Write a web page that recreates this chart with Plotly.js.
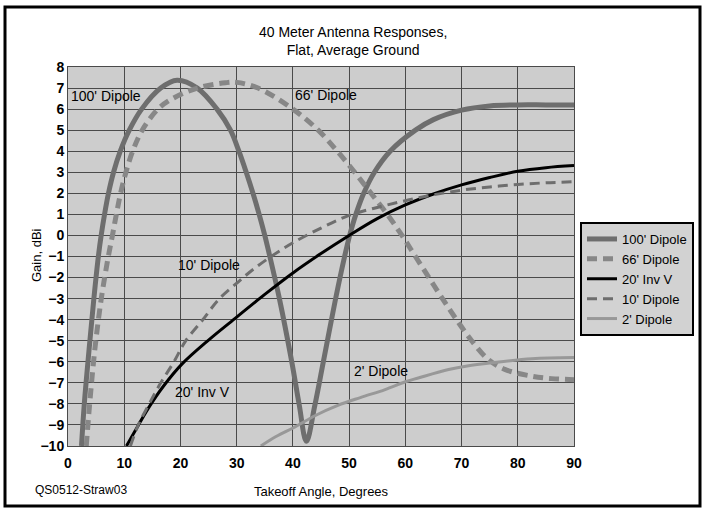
<!DOCTYPE html>
<html>
<head>
<meta charset="utf-8">
<script src="https://cdn.plot.ly/plotly-3.0.1.min.js"></script>
<style>
html,body{margin:0;padding:0;background:#fff;}
#chart{width:702px;height:508px;}
</style>
</head>
<body>
<div id="chart"></div>
<script>
// Series names
const seriesNames = ["100' Dipole", "66' Dipole", "20' Inv V", "10' Dipole", "2' Dipole"];

// 100' Dipole
const dip100X = [2.4, 2.9, 3.75, 4.6, 5.4, 5.9, 6.5, 7.2, 8.1, 9.3, 10.9, 13.1, 16.5, 19.4, 23.0, 26.5, 28.9, 30.4, 31.7, 32.9, 34.0, 35.0, 35.9, 37.6, 39.8, 41.1, 42.4, 43.9, 45.4, 47.6, 49.2, 50.1, 51.2, 52.6, 54.5, 57.3, 61.8, 65.0, 70.0, 75.0, 80.0, 85.0, 90.0];
const dip100Y = [-10, -8.0, -5.42, -3.0, -1.0, 0, 1, 2, 3, 4, 5, 6, 7, 7.37, 7, 6, 5, 4, 3, 2, 1, 0, -1, -3, -6, -8, -9.78, -8.07, -6.02, -3, -1, 0, 1, 2, 3, 4, 5, 5.5, 5.95, 6.15, 6.2, 6.2, 6.2];

// 66' Dipole
const dip66X = [3.25, 3.83, 4.77, 5.9, 7.1, 7.9, 8.6, 9.35, 10.3, 11.5, 13.2, 16.0, 18.6, 23.0, 28.0, 30.0, 33.8, 40.0, 44.5, 47.9, 51.0, 53.9, 56.8, 59.4, 61.8, 64.2, 66.6, 69.1, 71.8, 74.8, 77.8, 82.6, 86.0, 90.0];
const dip66Y = [-10, -8.07, -5.42, -3.04, -1.1, 0, 1, 2, 3, 4, 5, 6, 6.5, 7, 7.25, 7.27, 7, 6, 5, 4, 3, 2, 1, 0, -1, -2, -3, -4, -5, -5.9, -6.37, -6.69, -6.8, -6.85];

// 20' Inverted V
const invV20X = [10.4, 12.0, 14.3, 17.0, 20.3, 25.0, 30.0, 35.0, 40.0, 45.0, 50.0, 55.0, 60.0, 65.0, 70.0, 75.0, 80.0, 85.0, 90.0];
const invV20Y = [-10, -9.25, -8.2, -7.15, -6.1, -4.97, -3.88, -2.8, -1.78, -0.86, 0.0, 0.8, 1.45, 1.97, 2.4, 2.75, 3.05, 3.22, 3.32];

// 10' Dipole
const dip10X = [11.1, 12.5, 14.3, 16.5, 18.8, 20.9, 23.9, 26.8, 30.3, 33.0, 36.4, 40.0, 45.0, 50.0, 55.0, 60.0, 65.0, 70.0, 75.0, 80.0, 85.0, 90.0];
const dip10Y = [-10, -9, -8.07, -7, -6.02, -5.02, -4.03, -3.04, -2.2, -1.6, -0.95, -0.35, 0.35, 0.95, 1.33, 1.65, 1.93, 2.15, 2.3, 2.42, 2.5, 2.55];

// 2' Dipole
const dip2X = [34.3, 37.0, 40.6, 44.0, 48.0, 52.0, 56.4, 60.0, 62.3, 67.7, 71.0, 75.4, 82.5, 90.0];
const dip2Y = [-10, -9.55, -9.06, -8.55, -8.07, -7.7, -7.32, -6.95, -6.77, -6.37, -6.2, -6.05, -5.86, -5.8];

// Axis ticks
const xTicks = [0, 10, 20, 30, 40, 50, 60, 70, 80, 90];
const yTicks = [-10, -9, -8, -7, -6, -5, -4, -3, -2, -1, 0, 1, 2, 3, 4, 5, 6, 7, 8];

// In-plot labels
const labelTexts = ["100' Dipole", "66' Dipole", "10' Dipole", "20' Inv V", "2' Dipole"];
const labelX = [0.1, 40.0, 19.2, 18.7, 50.5];
const labelY = [6.6, 6.65, -1.38, -7.45, -6.45];

const FONT = 'Liberation Sans, Arial, Helvetica, sans-serif';

const fmtTick = v => '<b>' + (v < 0 ? '\u2212' + Math.abs(v) : String(v)) + '</b>';

const traces = [
  {x: dip100X, y: dip100Y, name: seriesNames[0], mode: 'lines',
   line: {color: '#6e6e6e', width: 5, shape: 'spline', smoothing: 1}},
  {x: dip66X, y: dip66Y, name: seriesNames[1], mode: 'lines',
   line: {color: '#878787', width: 5, dash: '10px,6px', shape: 'spline', smoothing: 1}},
  {x: invV20X, y: invV20Y, name: seriesNames[2], mode: 'lines',
   line: {color: '#000000', width: 3, shape: 'spline', smoothing: 1}},
  {x: dip10X, y: dip10Y, name: seriesNames[3], mode: 'lines',
   line: {color: '#6e6e6e', width: 3, dash: '10px,6px', shape: 'spline', smoothing: 1}},
  {x: dip2X, y: dip2Y, name: seriesNames[4], mode: 'lines',
   line: {color: '#989898', width: 3, shape: 'spline', smoothing: 1}}
];

const L = 68, R = 128, T = 67, B = 62, W = 702, H = 508;
const pw = W - L - R, ph = H - T - B;

const annotations = labelTexts.map((t, i) => ({
  x: labelX[i], y: labelY[i], xref: 'x', yref: 'y', text: t,
  showarrow: false, xanchor: 'left', yanchor: 'middle',
  font: {family: FONT, size: 14, color: '#000'}
}));
annotations.push({
  x: (33 - L) / pw, y: (H - B - 490) / ph, xref: 'paper', yref: 'paper', text: 'QS0512-Straw03',
  showarrow: false, xanchor: 'left', yanchor: 'middle',
  font: {family: FONT, size: 12, color: '#000'}
});
annotations.push({
  x: (36 - L) / pw, y: (H - B - 255) / ph, xref: 'paper', yref: 'paper', text: 'Gain, dBi',
  showarrow: false, xanchor: 'center', yanchor: 'middle', textangle: -90,
  font: {family: FONT, size: 13, color: '#000'}
});

const layout = {
  width: W, height: H,
  margin: {l: L, r: R, t: T, b: B, pad: 0},
  paper_bgcolor: '#ffffff',
  plot_bgcolor: '#cdcdcd',
  font: {family: FONT, size: 13, color: '#000'},
  title: {
    text: '40 Meter Antenna Responses,<br>Flat, Average Ground',
    font: {family: FONT, size: 14, color: '#000'},
    x: 0.503, xref: 'container', xanchor: 'center',
    y: 0.928, yref: 'container', yanchor: 'top'
  },
  xaxis: {
    range: [0, 90], tickvals: xTicks, ticktext: xTicks.map(fmtTick),
    showgrid: true, gridcolor: '#4a4a4a', gridwidth: 1,
    showline: true, linecolor: '#4a4a4a', linewidth: 1, mirror: true,
    zeroline: false, ticks: '', ticklabelstandoff: 4,
    tickfont: {family: FONT, size: 14, color: '#000'},
    title: {text: 'Takeoff Angle, Degrees', font: {family: FONT, size: 13, color: '#000'}, standoff: 17},
    automargin: false, fixedrange: true
  },
  yaxis: {
    range: [-10, 8], tickvals: yTicks, ticktext: yTicks.map(fmtTick),
    showgrid: true, gridcolor: '#4a4a4a', gridwidth: 1,
    showline: true, linecolor: '#4a4a4a', linewidth: 1, mirror: true,
    zeroline: false, ticks: '',
    tickfont: {family: FONT, size: 14, color: '#000'},
    automargin: false, fixedrange: true
  },
  legend: {
    xref: 'container', yref: 'container',
    x: 580 / W, y: 1 - 222 / H, xanchor: 'left', yanchor: 'top',
    bgcolor: '#d2d2d2', bordercolor: '#000', borderwidth: 2,
    font: {family: FONT, size: 13, color: '#000'},
    tracegroupgap: 0, itemwidth: 30
  },
  showlegend: true,
  annotations: annotations,
  shapes: [{
    type: 'rect', xref: 'paper', yref: 'paper', layer: 'above',
    x0: (5 - L) / pw, x1: (700 - L) / pw,
    y0: (H - B - 506) / ph, y1: (H - B - 7) / ph,
    line: {color: '#000', width: 3}, fillcolor: 'rgba(0,0,0,0)'
  }]
};

Plotly.newPlot('chart', traces, layout, {staticPlot: true, displayModeBar: false});
</script>
</body>
</html>
